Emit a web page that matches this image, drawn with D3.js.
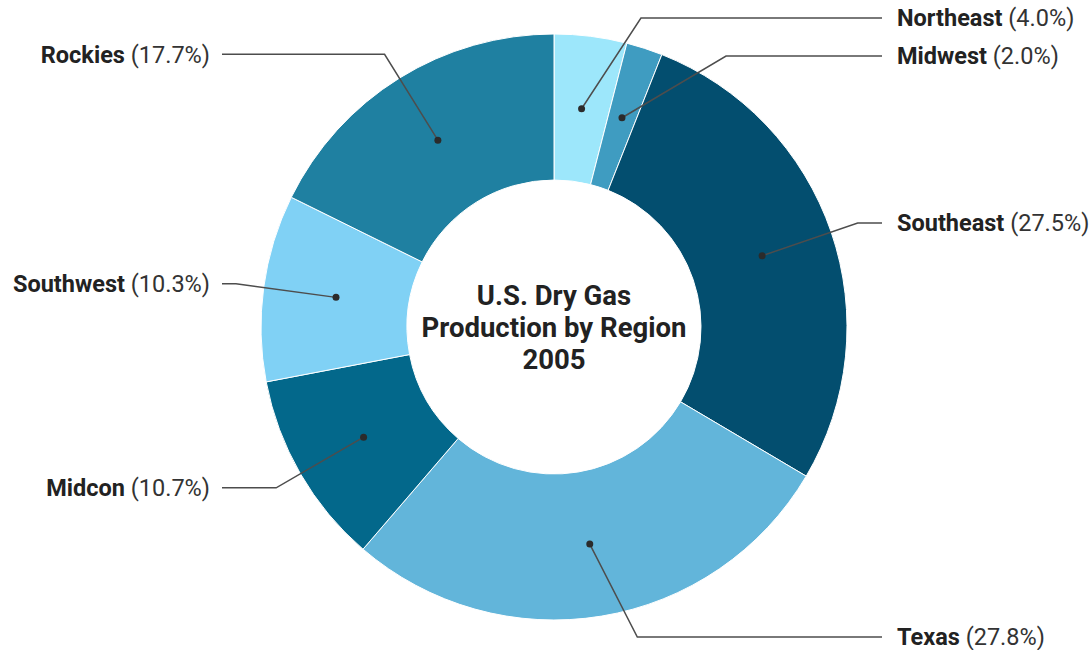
<!DOCTYPE html>
<html>
<head>
<meta charset="utf-8">
<script src="https://cdn.jsdelivr.net/npm/d3@7"></script>
<style>
  html, body { margin: 0; padding: 0; background: #fff; }
  svg { display: block; font-family: Roboto, "Noto Sans", sans-serif; }
</style>
</head>
<body>
<svg id="chart" width="1091" height="650"></svg>
<script>
// Regions in clockwise order from 12 o'clock
const regions = ["Northeast", "Midwest", "Southeast", "Texas", "Midcon", "Southwest", "Rockies"];
const shares  = [4.0, 2.0, 27.5, 27.8, 10.7, 10.3, 17.7];
const colors  = ["#9de7fb", "#3f9cc1", "#034e6f", "#62b5da", "#03688b", "#80d1f5", "#1f80a1"];
const titleLines = ["U.S. Dry Gas", "Production by Region", "2005"];

const width = 1091, height = 650;
const cx = 554, cy = 327;
const outerR = 293, innerR = 147;
const dotR = (outerR + innerR) / 2;
const elbowR = 321;
const labelGap = 38, labelTop = 18, labelBottom = 637;

const svg = d3.select("#chart");
const g = svg.append("g").attr("transform", `translate(${cx},${cy})`);

const data = regions.map((name, i) => ({ name, value: shares[i], color: colors[i] }));

const pie = d3.pie().value(d => d.value).sort(null);
const arcs = pie(data);

const arc = d3.arc().innerRadius(innerR).outerRadius(outerR);
const mid = d3.arc().innerRadius(dotR).outerRadius(dotR);

g.selectAll("path.slice")
  .data(arcs)
  .join("path")
  .attr("class", "slice")
  .attr("d", arc)
  .attr("fill", d => d.data.color)
  .attr("stroke", "#ffffff")
  .attr("stroke-width", 1);

// Label placement: project each slice's mid-angle to a ring, then spread labels vertically
const labels = arcs.map(a => {
  const ang = (a.startAngle + a.endAngle) / 2;
  const side = Math.sin(ang) >= 0 ? 1 : -1;
  return { a, ang, side, y: -elbowR * Math.cos(ang) };
});

[1, -1].forEach(side => {
  const group = labels.filter(l => l.side === side).sort((p, q) => p.y - q.y);
  group.forEach(l => { l.y = Math.max(labelTop - cy, Math.min(labelBottom - cy, l.y)); });
  for (let i = 1; i < group.length; i++) {
    if (group[i].y - group[i - 1].y < labelGap) group[i].y = group[i - 1].y + labelGap;
  }
  for (let i = group.length - 2; i >= 0; i--) {
    if (group[i + 1].y - group[i].y < labelGap) group[i].y = group[i + 1].y - labelGap;
  }
});

const rightLineEnd = 882 - cx, rightTextX = 897 - cx;
const leftLineEnd = 222 - cx, leftTextX = 210 - cx;

labels.forEach(l => {
  const [dx, dy] = mid.centroid(l.a);
  const ey = l.y;
  const ex = l.side * Math.sqrt(Math.max(0, elbowR * elbowR - ey * ey));
  const endX = l.side > 0 ? rightLineEnd : leftLineEnd;

  g.append("polyline")
    .attr("points", [[dx, dy], [ex, ey], [endX, ey]].map(p => p.join(",")).join(" "))
    .attr("fill", "none")
    .attr("stroke", "#4d4d4d")
    .attr("stroke-width", 1.5);

  g.append("circle")
    .attr("cx", dx).attr("cy", dy).attr("r", 3.5)
    .attr("fill", "#2b2b2b");

  const t = g.append("text")
    .attr("x", l.side > 0 ? rightTextX : leftTextX)
    .attr("y", ey)
    .attr("dy", "0.35em")
    .attr("text-anchor", l.side > 0 ? "start" : "end")
    .attr("font-size", 23.5)
    .attr("fill", "#222");
  t.append("tspan").attr("font-weight", 700).text(l.a.data.name);
  t.append("tspan").attr("font-weight", 400).attr("fill", "#333")
    .text(` (${l.a.data.value.toFixed(1)}%)`);
});

// Center title
g.append("text")
  .attr("text-anchor", "middle")
  .attr("font-size", 27.5)
  .attr("font-weight", 700)
  .attr("fill", "#222")
  .selectAll("tspan")
  .data(titleLines)
  .join("tspan")
  .attr("x", 0)
  .attr("y", (d, i) => (i - 1) * 32 + 10)
  .text(d => d);
</script>
</body>
</html>
